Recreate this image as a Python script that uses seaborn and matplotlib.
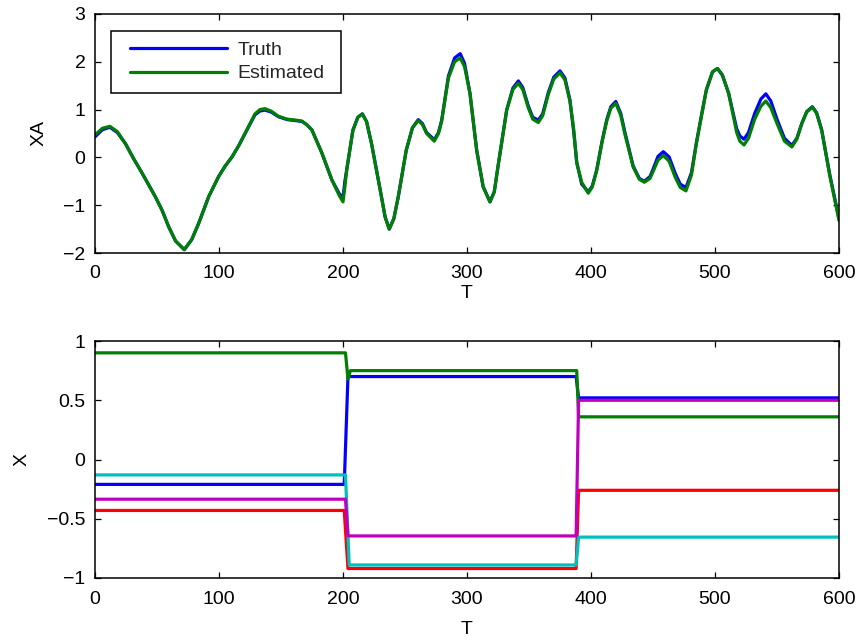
import numpy as np
import pandas as pd
import matplotlib
matplotlib.use('Agg')
import matplotlib.pyplot as plt
import seaborn as sns
from matplotlib.legend_handler import HandlerLine2D
from matplotlib.lines import Line2D

sns.set_theme(style='ticks')
plt.rcParams['font.family'] = ['Liberation Sans', 'DejaVu Sans']
plt.rcParams['axes.unicode_minus'] = True

# ---------------------------------------------------------------
# Top panel: XA, truth vs estimate
# ---------------------------------------------------------------
t_xa = [0, 6, 12, 18, 24.5, 31, 38, 48.6, 54, 59.4, 65, 72, 78, 83.6, 91.7,
        99.7, 105, 110.5, 116, 121, 129, 133, 137, 142, 148, 155, 162, 167,
        171, 175, 183, 191, 197, 200, 201.5, 203, 208, 212, 215.6, 219, 223,
        230, 234, 237.3, 241, 244.6, 251, 256, 260.7, 264, 267.4, 273.6, 277,
        279.6, 285, 290, 294.5, 298, 302.4, 307.8, 313, 318.5, 322, 325, 332,
        337, 341.4, 345, 349.4, 353, 357.5, 361, 365.6, 370, 375, 379, 383,
        386, 388.5, 392.5, 397.8, 401, 404.6, 409, 412.7, 416, 420, 424,
        427.4, 434, 439, 443, 447.6, 450, 454, 458.3, 463, 468, 472, 476.6,
        481, 485, 489, 493, 498, 502, 506, 511, 517.5, 520, 523.4, 527, 532,
        537, 541, 545, 550, 556, 562, 566, 570, 574, 578.5, 582, 586, 592.7,
        600]

xa_truth = [0.43, 0.58, 0.63, 0.52, 0.29, -0.02, -0.33, -0.82, -1.10, -1.45,
            -1.75, -1.93, -1.72, -1.38, -0.82, -0.40, -0.18, 0.01, 0.25, 0.50,
            0.89, 0.97, 0.99, 0.95, 0.85, 0.79, 0.77, 0.75, 0.68, 0.57, 0.09,
            -0.47, -0.76, -0.85, -0.50, -0.26, 0.57, 0.84, 0.91, 0.75, 0.29,
            -0.68, -1.25, -1.50, -1.28, -0.82, 0.15, 0.62, 0.79, 0.71, 0.52,
            0.37, 0.52, 0.78, 1.70, 2.08, 2.17, 1.97, 1.34, 0.15, -0.61, -0.93,
            -0.72, -0.19, 0.99, 1.45, 1.60, 1.46, 1.08, 0.84, 0.78, 0.91, 1.36,
            1.68, 1.81, 1.66, 1.20, 0.55, -0.10, -0.56, -0.72, -0.60, -0.26,
            0.35, 0.79, 1.06, 1.17, 0.92, 0.52, -0.18, -0.44, -0.50, -0.40,
            -0.25, 0.02, 0.12, 0.01, -0.34, -0.56, -0.63, -0.32, 0.31, 0.87,
            1.41, 1.79, 1.86, 1.72, 1.34, 0.60, 0.45, 0.38, 0.52, 0.92, 1.22,
            1.33, 1.18, 0.80, 0.40, 0.25, 0.40, 0.71, 0.96, 1.06, 0.93, 0.58,
            -0.38, -1.28]

xa_est = [0.47, 0.61, 0.65, 0.54, 0.29, -0.02, -0.33, -0.82, -1.10, -1.45,
          -1.75, -1.93, -1.72, -1.38, -0.82, -0.40, -0.18, 0.01, 0.25, 0.50,
          0.91, 1.00, 1.02, 0.97, 0.86, 0.80, 0.78, 0.76, 0.68, 0.57, 0.09,
          -0.47, -0.80, -0.93, -0.62, -0.26, 0.57, 0.84, 0.91, 0.75, 0.29,
          -0.68, -1.25, -1.50, -1.28, -0.82, 0.15, 0.62, 0.77, 0.69, 0.50,
          0.34, 0.50, 0.76, 1.66, 2.00, 2.08, 1.90, 1.34, 0.15, -0.61, -0.93,
          -0.72, -0.19, 0.99, 1.42, 1.55, 1.42, 1.04, 0.80, 0.73, 0.87, 1.32,
          1.64, 1.77, 1.62, 1.18, 0.60, -0.12, -0.52, -0.75, -0.62, -0.28,
          0.33, 0.76, 1.03, 1.13, 0.88, 0.48, -0.20, -0.46, -0.52, -0.44,
          -0.30, -0.06, 0.04, -0.08, -0.42, -0.63, -0.70, -0.37, 0.29, 0.85,
          1.41, 1.79, 1.86, 1.72, 1.34, 0.52, 0.34, 0.26, 0.40, 0.80, 1.07,
          1.18, 1.04, 0.71, 0.34, 0.22, 0.38, 0.71, 0.95, 1.05, 0.92, 0.57,
          -0.40, -1.32]

# ---------------------------------------------------------------
# Bottom panel: five piecewise-constant X components (knots)
# ---------------------------------------------------------------
blue_t = [0, 201, 204, 388, 390, 600]
blue_v = [-0.21, -0.21, 0.70, 0.70, 0.52, 0.52]
green_t = [0, 202, 204, 206, 388.5, 390, 600]
green_v = [0.90, 0.90, 0.68, 0.75, 0.75, 0.36, 0.36]
red_t = [0, 201, 204, 388, 390, 600]
red_v = [-0.43, -0.43, -0.92, -0.92, -0.26, -0.26]
cyan_t = [0, 202, 205, 388, 390, 600]
cyan_v = [-0.13, -0.13, -0.89, -0.89, -0.655, -0.655]
mag_t = [0, 202, 204, 388, 390, 600]
mag_v = [-0.335, -0.335, -0.645, -0.645, 0.50, 0.50]

x_ticks = [0, 100, 200, 300, 400, 500, 600]
xa_ticks = [-2, -1, 0, 1, 2, 3]
x2_ticks = [-1, -0.5, 0, 0.5, 1]
x2_ticklabels = ['\u22121', '\u22120.5', '0', '0.5', '1']

mat_blue = (0, 0, 1)
mat_green = (0, 0.5, 0)
mat_red = (1, 0, 0)
mat_cyan = (0, 0.75, 0.75)
mat_mag = (0.75, 0, 0.75)

df_top = pd.concat([
    pd.DataFrame({'T': t_xa, 'XA': xa_truth, 'series': 'Truth'}),
    pd.DataFrame({'T': t_xa, 'XA': xa_est, 'series': 'Estimated'}),
], ignore_index=True)

bottom_series = [('c1', blue_t, blue_v), ('c2', green_t, green_v),
                 ('c3', red_t, red_v), ('c4', cyan_t, cyan_v),
                 ('c5', mag_t, mag_v)]
df_bot = pd.concat([pd.DataFrame({'T': t, 'X': v, 'series': name})
                    for name, t, v in bottom_series], ignore_index=True)
bot_palette = {'c1': mat_blue, 'c2': mat_green, 'c3': mat_red,
               'c4': mat_cyan, 'c5': mat_mag}

W, H = 859, 640
fig = plt.figure(figsize=(W / 100, H / 100), dpi=100)
fig.patch.set_facecolor('white')
ax1 = fig.add_axes([95 / W, 1 - 253 / H, 744 / W, 239 / H])
ax2 = fig.add_axes([95 / W, 1 - 578 / H, 744 / W, 237 / H])

sns.lineplot(data=df_top, x='T', y='XA', hue='series',
             hue_order=['Truth', 'Estimated'],
             palette={'Truth': mat_blue, 'Estimated': mat_green},
             lw=2.3, ax=ax1, estimator=None)
sns.lineplot(data=df_bot, x='T', y='X', hue='series',
             hue_order=['c1', 'c2', 'c3', 'c4', 'c5'], palette=bot_palette,
             lw=2.3, ax=ax2, estimator=None, legend=False)

for ax in (ax1, ax2):
    ax.set_facecolor('white')
    ax.set_xlim(0, 600)
    ax.set_xticks(x_ticks)
    ax.tick_params(direction='in', length=4.5, width=0.9, top=True,
                   right=True, labelsize=14, colors='black')
    ax.tick_params(axis='x', pad=9)
    ax.tick_params(axis='y', pad=6.8)
    for s in ax.spines.values():
        s.set_visible(True)
        s.set_color('black')
        s.set_linewidth(1.1)
    ax.grid(False)

ax1.set_ylim(-2, 3)
ax1.set_yticks(xa_ticks)
ax1.set_xlabel('T', fontsize=14, labelpad=1.5, color='black')
ax1.set_ylabel('XA', fontsize=14, labelpad=11, color='black')

ax2.set_ylim(-1, 1)
ax2.set_yticks(x2_ticks)
ax2.set_yticklabels(x2_ticklabels)
ax2.set_xlabel('T', fontsize=14, labelpad=10, color='black')
ax2.set_ylabel('X', fontsize=14, labelpad=12, color='black')

# legend box: MATLAB style, line inset from the frame
handles, labels = ax1.get_legend_handles_labels()
leg = ax1.legend(handles, labels, loc='upper left', mode='expand',
                 bbox_to_anchor=(15.7 / 744, (253 - 93.3) / 239,
                                 230 / 744, 62.6 / 239),
                 borderaxespad=0, fontsize=14, frameon=True, fancybox=False,
                 framealpha=1, edgecolor='black', handlelength=5.86,
                 handletextpad=0.12, labelspacing=0.3, borderpad=0.55,
                 handler_map={Line2D: HandlerLine2D(numpoints=2,
                                                    marker_pad=0.44)})
leg.get_frame().set_linewidth(1.1)
for h in leg.get_lines():
    h.set_linewidth(2.3)

fig.savefig('out.png', dpi=100, facecolor='white')
